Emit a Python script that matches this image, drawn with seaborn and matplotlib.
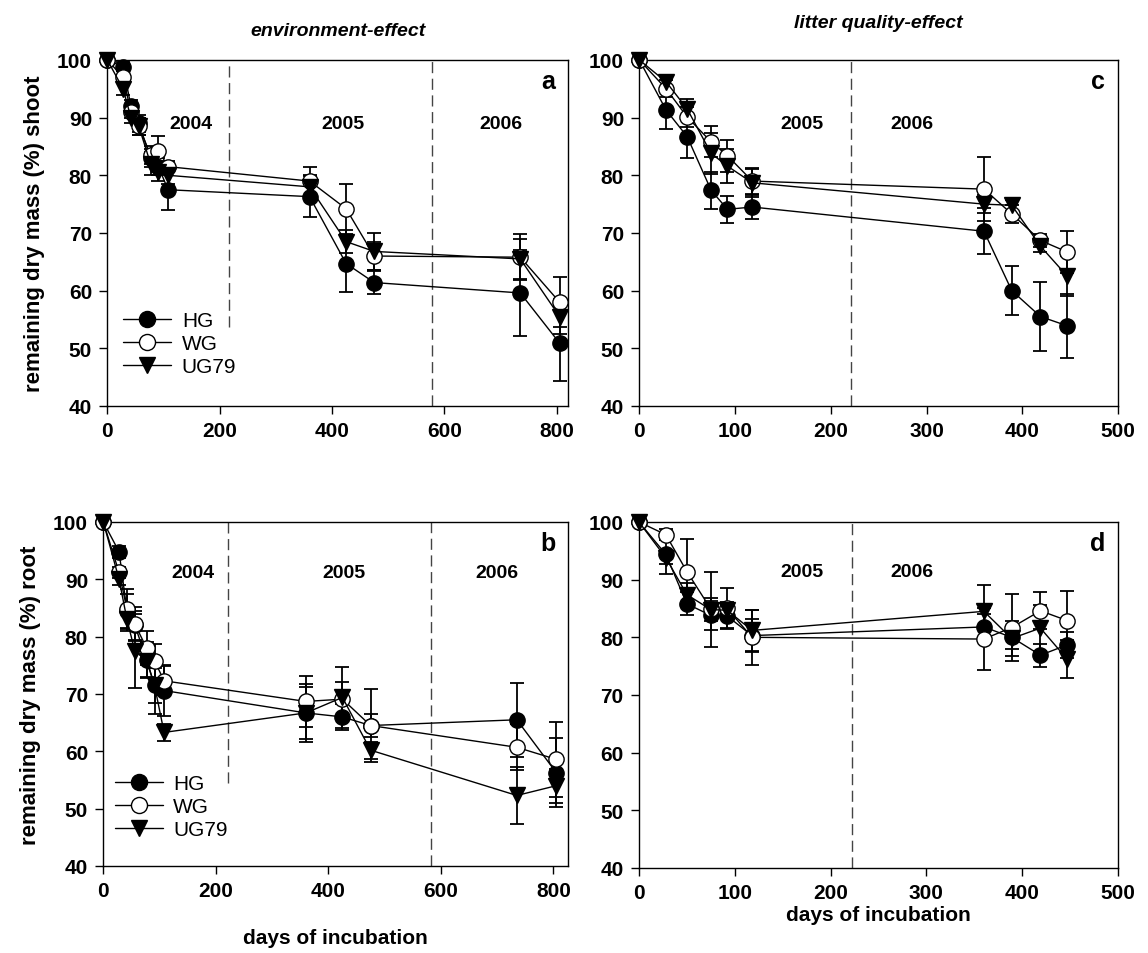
import numpy as np
import pandas as pd
import matplotlib
matplotlib.use('Agg')
import matplotlib.pyplot as plt
import seaborn as sns

sns.set_style('ticks')
plt.rcParams['font.family'] = ['Liberation Sans', 'DejaVu Sans']
plt.rcParams['text.color'] = 'black'
plt.rcParams['axes.labelcolor'] = 'black'
plt.rcParams['xtick.color'] = 'black'
plt.rcParams['ytick.color'] = 'black'
plt.rcParams['axes.edgecolor'] = 'black'

# days of incubation
days_env = [0, 28, 42, 56, 77, 91, 108, 360, 425, 475, 735, 805]
days_lit = [0, 28, 50, 75, 92, 118, 360, 389, 419, 447]

series = ['HG', 'WG', 'UG79']

# panel a: environment effect, shoot
a_HG = [100, 98.8, 92, 89, 83, 81.5, 77.5, 76.3, 64.7, 61.4, 59.6, 50.9]
a_WG = [100, 97, 91, 88.5, 83.5, 84.3, 81.5, 79, 74.2, 66, 65.8, 58]
a_UG = [100, 95, 90, 88.5, 82, 80.5, 80, 78, 68.5, 66.8, 65.5, 55.5]
a_HG_err = [0, 0.8, 1, 1.5, 1.5, 1.5, 3.5, 3.5, 5, 2, 7.5, 6.5]
a_WG_err = [0, 1, 1, 1.5, 1.5, 2.5, 1, 2.5, 4.3, 2.5, 4, 4.3]
a_UG_err = [0, 1, 1, 1.5, 2, 1.5, 1.5, 2, 2, 3.2, 3.5, 3]

# panel b: environment effect, root
b_HG = [100, 94.8, 84.5, 82, 76, 71.5, 70.6, 66.7, 66, 64.5, 65.5, 56.3]
b_WG = [100, 91.2, 84.8, 82.2, 78, 75.8, 72.3, 68.7, 69.1, 64.5, 60.7, 58.6]
b_UG = [100, 90, 83, 77.5, 75.8, 71.5, 63.3, 66.7, 69.4, 60.2, 52.3, 54]
b_HG_err = [0, 1, 3, 2.5, 3, 5, 4.5, 4.5, 2.3, 2, 6.5, 6]
b_WG_err = [0, 1, 3.5, 3, 3, 3, 2.5, 4.5, 3, 6.3, 4, 6.5]
b_UG_err = [0, 1, 2, 6.5, 3, 3, 1.5, 5, 5.3, 1.5, 5, 3]

# panel c: litter quality effect, shoot
c_HG = [100, 91.3, 86.7, 77.4, 74.1, 74.5, 70.3, 60, 55.5, 53.9]
c_WG = [100, 95, 90.1, 85.8, 83.4, 79, 77.6, 73.3, 68.7, 66.7]
c_UG = [100, 96.2, 91.5, 83.8, 81.6, 78.7, 75, 74.8, 67.7, 62.5]
c_HG_err = [0, 3.3, 3.7, 3.2, 2.3, 2, 4, 4.2, 6, 5.5]
c_WG_err = [0, 1.5, 1.8, 2.7, 2.8, 2.2, 5.5, 1.5, 1.2, 3.7]
c_UG_err = [0, 1, 1.8, 3.5, 3, 2.4, 1.5, 1, 1, 3.5]

# panel d: litter quality effect, root
d_HG = [100, 94.4, 85.8, 83.8, 83.7, 80.3, 81.8, 80, 76.9, 78.7]
d_WG = [100, 97.8, 91.4, 84.9, 85, 80, 79.7, 81.7, 84.6, 82.9]
d_UG = [100, 93.8, 87.4, 84.8, 84.7, 81.2, 84.5, 79.8, 81.6, 76.2]
d_HG_err = [0, 3.4, 2, 2.5, 2, 2.8, 2.3, 2, 2, 2.3]
d_WG_err = [0, 1, 5.6, 6.5, 3.5, 4.8, 5.4, 5.8, 3.2, 5.2]
d_UG_err = [0, 1, 2, 2, 1.5, 3.6, 4.5, 3, 4, 3.3]

env_years = ['2004', '2005', '2006']
env_year_x_a = [148, 419, 700]
env_year_x_b = [160, 427, 700]
lit_years = ['2005', '2006']
lit_year_x = [170, 285]


def make_df(days, vals, errs):
    frames = []
    for name, v, e in zip(series, vals, errs):
        frames.append(pd.DataFrame({'days': days, 'mass': v, 'err': e, 'group': name}))
    return pd.concat(frames, ignore_index=True)


styles = {
    'HG': dict(marker='o', markerfacecolor='black'),
    'WG': dict(marker='o', markerfacecolor='white'),
    'UG79': dict(marker='v', markerfacecolor='black'),
}


def draw_panel(ax, df, xmax, xticks, vlines, vline_stop, years, year_x, year_y,
               letter, legend_pos=None):
    for name in series:
        sub = df[df['group'] == name]
        ax.errorbar(sub['days'], sub['mass'], yerr=sub['err'], fmt='none',
                    ecolor='black', elinewidth=1.3, capsize=5, capthick=1.3,
                    zorder=2, clip_on=False)
    for name in series:
        sub = df[df['group'] == name]
        sns.lineplot(data=sub, x='days', y='mass', ax=ax, color='black',
                     linewidth=1.0, markersize=11, markeredgecolor='black',
                     markeredgewidth=1.0, label=name, zorder=3, clip_on=False,
                     **styles[name])
    for xv, ystop in zip(vlines, vline_stop):
        ax.plot([xv, xv], [ystop, 100], color='#444444', lw=1.0,
                dashes=(8, 4), zorder=1)
    for yr, xv in zip(years, year_x):
        ax.text(xv, year_y, yr, ha='center', va='center', fontsize=14,
                fontweight='bold')
    ax.text(0.957, 0.94, letter, transform=ax.transAxes, ha='center', va='center',
            fontsize=18, fontweight='bold')
    ax.set_xlim(0, xmax)
    ax.set_ylim(40, 100)
    ax.set_xticks(xticks)
    ax.set_yticks(range(40, 101, 10))
    ax.tick_params(direction='out', length=6, width=1, labelsize=15, pad=5)
    for lab in ax.get_xticklabels() + ax.get_yticklabels():
        lab.set_fontweight('bold')
    for sp in ax.spines.values():
        sp.set_linewidth(1.0)
        sp.set_color('black')
    ax.set_xlabel('')
    ax.set_ylabel('')
    if legend_pos is not None:
        ax.legend(loc='center left', bbox_to_anchor=legend_pos, frameon=False,
                  fontsize=15, handlelength=2.3, handletextpad=0.5,
                  labelspacing=0.2, borderaxespad=0, borderpad=0, markerscale=1.05)
    else:
        ax.get_legend().remove()


fig = plt.figure(figsize=(11.48, 9.54), dpi=100)
ax_a = fig.add_axes([0.0935, 0.5734, 0.4013, 0.3627])
ax_c = fig.add_axes([0.5569, 0.5734, 0.4170, 0.3627])
ax_b = fig.add_axes([0.0900, 0.0912, 0.4048, 0.3606])
ax_d = fig.add_axes([0.5566, 0.0891, 0.4173, 0.3627])

draw_panel(ax_a, make_df(days_env, [a_HG, a_WG, a_UG], [a_HG_err, a_WG_err, a_UG_err]),
           820, range(0, 801, 200), [216, 577], [53.7, 40], env_years, env_year_x_a, 89,
           'a', legend_pos=(0.035, 0.18))
draw_panel(ax_b, make_df(days_env, [b_HG, b_WG, b_UG], [b_HG_err, b_WG_err, b_UG_err]),
           826, range(0, 801, 200), [222, 583], [54.5, 40], env_years, env_year_x_b, 91.2,
           'b', legend_pos=(0.025, 0.173))
draw_panel(ax_c, make_df(days_lit, [c_HG, c_WG, c_UG], [c_HG_err, c_WG_err, c_UG_err]),
           500, range(0, 501, 100), [221], [40], lit_years, lit_year_x, 89, 'c')
draw_panel(ax_d, make_df(days_lit, [d_HG, d_WG, d_UG], [d_HG_err, d_WG_err, d_UG_err]),
           500, range(0, 501, 100), [222], [40], lit_years, lit_year_x, 91.5, 'd')

ax_a.set_ylabel('remaining dry mass (%) shoot', fontsize=16, fontweight='bold', labelpad=9)
ax_b.set_ylabel('remaining dry mass (%) root', fontsize=16, fontweight='bold', labelpad=9)
ax_b.set_xlabel('days of incubation', fontsize=15, fontweight='bold', labelpad=20)
ax_d.set_xlabel('days of incubation', fontsize=15, fontweight='bold', labelpad=2)

ax_a.set_title('environment-effect', fontsize=14, fontweight='bold', style='italic', pad=18)
ax_c.set_title('litter quality-effect', fontsize=14, fontweight='bold', style='italic', pad=24)

fig.savefig('out.png', dpi=100)
